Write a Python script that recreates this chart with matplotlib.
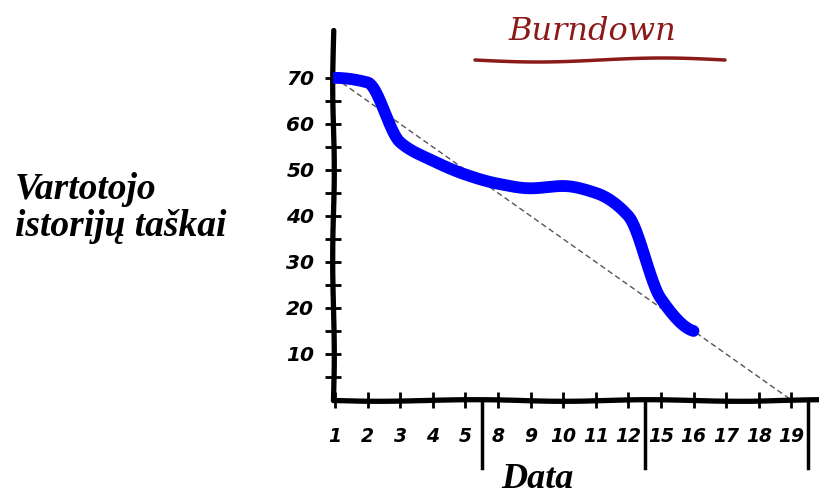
import numpy as np
import matplotlib
matplotlib.use("Agg")
import matplotlib.pyplot as plt
from matplotlib.lines import Line2D

# ---- data ----
day_labels = ["1", "2", "3", "4", "5", "8", "9", "10", "11", "12",
              "15", "16", "17", "18", "19"]
actual_points = [70, 69, 56, 52, 49, 47, 46, 46.5, 45, 40, 22, 15]
ideal_start = 70
ideal_end = 0
y_major = [10, 20, 30, 40, 50, 60, 70]
y_minor = [5, 15, 25, 35, 45, 55, 65]
week_breaks = [4.5, 9.5, 14.5]


def pchip(x, y, xn):
    x = np.asarray(x, float)
    y = np.asarray(y, float)
    h = np.diff(x)
    d = np.diff(y) / h
    m = np.zeros_like(y)
    for k in range(1, len(y) - 1):
        if d[k - 1] * d[k] > 0:
            w1 = 2 * h[k] + h[k - 1]
            w2 = h[k] + 2 * h[k - 1]
            m[k] = (w1 + w2) / (w1 / d[k - 1] + w2 / d[k])
    m[0] = 0.0
    m[-1] = d[-1] * 0.3
    out = np.empty_like(xn)
    idx = np.clip(np.searchsorted(x, xn) - 1, 0, len(x) - 2)
    for j, xv in enumerate(xn):
        k = idx[j]
        t = (xv - x[k]) / h[k]
        h00 = 2 * t**3 - 3 * t**2 + 1
        h10 = t**3 - 2 * t**2 + t
        h01 = -2 * t**3 + 3 * t**2
        h11 = t**3 - t**2
        out[j] = h00 * y[k] + h10 * h[k] * m[k] + h01 * y[k + 1] + h11 * h[k] * m[k + 1]
    return out


fig = plt.figure(figsize=(8.19, 4.98), dpi=100)
ax = fig.add_axes([333 / 819, 98 / 498, 486 / 819, 370 / 498])

x_days = np.arange(len(day_labels))
x_act = np.arange(len(actual_points))
xs = np.linspace(0, len(actual_points) - 1, 400)
ys = pchip(x_act, actual_points, xs)

# ideal line
ax.plot([x_days[0], x_days[-1]], [ideal_start, ideal_end], color="#555555",
        lw=1.0, dashes=(4, 2.5), zorder=2)
# actual burndown
ax.plot(xs, ys, color="#0000FF", lw=8.5, solid_capstyle="round",
        solid_joinstyle="round", zorder=3)

ax.set_xlim(-0.06, 14.85)
ax.set_ylim(0, 80.4)

for s in ["top", "right"]:
    ax.spines[s].set_visible(False)
for s in ["left", "bottom"]:
    ax.spines[s].set_linewidth(3.8)
    ax.spines[s].set_color("black")
    ax.spines[s].set_capstyle("round")
    ax.spines[s].set_sketch_params(scale=0.8, length=200, randomness=2)

tick_font = dict(family="DejaVu Sans", style="italic", weight="bold")
ax.set_xticks(x_days)
ax.set_xticklabels(day_labels, fontsize=13.5, **tick_font)
ax.tick_params(axis="x", direction="inout", length=11, width=2, pad=14)
ax.set_yticks(y_major)
ax.set_yticklabels([str(v) for v in y_major], fontsize=14.5, **tick_font)
ax.set_yticks(y_minor, minor=True)
ax.tick_params(axis="y", which="both", direction="inout", length=11, width=2, pad=8)

for xb in week_breaks:
    ax.plot([xb, xb], [0, -0.185], color="black", lw=2.5,
            transform=ax.get_xaxis_transform(), clip_on=False)

# texts
fig.text(15 / 819, 1 - 208 / 498, "Vartotojo\nistorijų taškai",
         family="Liberation Serif", weight="bold", style="italic",
         fontsize=27, ha="left", va="center", linespacing=1.05)
fig.text(537 / 819, 1 - 479 / 498, "Data", family="Liberation Serif",
         weight="bold", style="italic", fontsize=26, ha="center", va="center")
fig.text(592 / 819, 1 - 32 / 498, "Burndown", family="DejaVu Serif",
         style="italic", fontsize=23, color="#8B1A1A", ha="center", va="center")

# wavy underline under title (decoration)
ux = np.linspace(475, 725, 100)
uy = 60 + 2.0 * np.sin((ux - 475) / 250 * 2 * np.pi)
fig.add_artist(Line2D(ux / 819, 1 - uy / 498, color="#8B1A1A", lw=2.5,
                      solid_capstyle="round"))

fig.savefig("out.png", dpi=100)
